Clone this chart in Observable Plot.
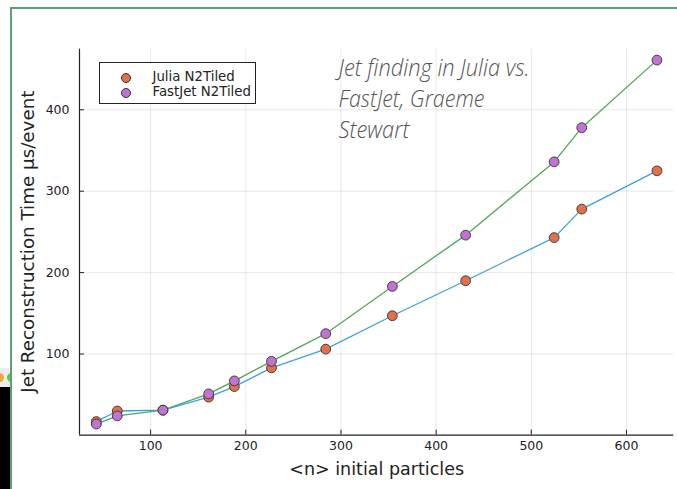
<!DOCTYPE html>
<html><head><meta charset="utf-8">
<script src="https://cdn.jsdelivr.net/npm/d3@7"></script>
<script src="https://cdn.jsdelivr.net/npm/@observablehq/plot@0.6"></script>
<style>
html,body{margin:0;padding:0;background:#fff;}
#wrap{position:relative;width:677px;height:489px;overflow:hidden;font-family:"DejaVu Sans",sans-serif;background:#fff;}
#chart{position:absolute;left:0;top:0;}
#border{position:absolute;left:10px;top:7px;width:800px;height:600px;border:2px solid #5aa274;box-sizing:border-box;pointer-events:none;}
#uibar{position:absolute;left:0;top:368px;width:11px;height:19px;background:#ececec;overflow:hidden;}
#uibar .d1{position:absolute;left:-5px;top:5px;width:9px;height:9px;border-radius:50%;background:#f0a53a;}
#uibar .d2{position:absolute;left:7px;top:5px;width:9px;height:9px;border-radius:50%;background:#5fc553;}
#black{position:absolute;left:0;top:387px;width:11px;height:102px;background:#000;}
#legend{position:absolute;left:99px;top:62px;width:157px;height:42px;border:1px solid #222;box-sizing:border-box;background:#fff;}
#legend .row{position:absolute;left:0;height:16px;width:155px;}
#legend .mk{position:absolute;left:20.5px;top:2.5px;width:10.5px;height:10.5px;border-radius:50%;border:0.9px solid #333;box-sizing:border-box;}
#legend .lb{position:absolute;left:52.5px;top:-1px;font-size:13.3px;line-height:16px;color:#222;white-space:nowrap;}
</style></head><body>
<div id="wrap">
<div id="chart"></div>
<div id="legend"></div>
<div id="uibar"><div class="d1"></div><div class="d2"></div></div>
<div id="black"></div>
<div id="border"></div>
</div>
<script>
// Data
const particles   = [43, 65, 113, 161, 188, 227, 284, 354, 431, 524, 553, 632];
const juliaTime   = [17, 30, 31, 47, 60, 83, 106, 147, 190, 243, 278, 325];
const fastjetTime = [14, 24, 31, 51, 67, 91, 125, 183, 246, 336, 378, 461];
const seriesNames = ["Julia N2Tiled", "FastJet N2Tiled"];
const lineColors  = ["#3d9fe3", "#52a55c"];
const markerColors = ["#e2704a", "#c173d3"];
const xTicks = [100, 200, 300, 400, 500, 600];
const yTicks = [100, 200, 300, 400];
const xLabel = "<n> initial particles";
const yLabel = "Jet Reconstruction Time µs/event";
const noteText = "Jet finding in Julia vs.\nFastJet, Graeme\nStewart";

const xDomain = [25.3, 649.7];
const yDomain = [0.4, 474.4];

const julia = particles.map((n, i) => ({n, t: juliaTime[i], s: seriesNames[0]}));
const fastjet = particles.map((n, i) => ({n, t: fastjetTime[i], s: seriesNames[1]}));

const plot = Plot.plot({
  width: 677,
  height: 489,
  marginLeft: 79,
  marginRight: 3.7,
  marginTop: 48.7,
  marginBottom: 54.4,
  style: {fontFamily: "DejaVu Sans, sans-serif", fontSize: "12.5px", color: "#222", background: "transparent"},
  x: {domain: xDomain},
  y: {domain: yDomain},
  marks: [
    Plot.gridX(xTicks, {stroke: "#000", strokeOpacity: 0.09, strokeWidth: 1}),
    Plot.gridY(yTicks, {stroke: "#000", strokeOpacity: 0.09, strokeWidth: 1}),
    Plot.axisX({ticks: xTicks, tickSize: -5, tickPadding: 11.5, label: null, stroke: "#222", fontSize: 12.5}),
    Plot.axisY({ticks: yTicks, tickSize: -5, tickPadding: 15, label: null, stroke: "#222", fontSize: 12.5}),
    Plot.ruleX([xDomain[0]], {stroke: "#222", strokeWidth: 1.2}),
    Plot.ruleY([yDomain[0]], {stroke: "#222", strokeWidth: 1.2}),
    Plot.line(julia, {x: "n", y: "t", stroke: lineColors[0], strokeWidth: 1.3}),
    Plot.dot(julia, {x: "n", y: "t", r: 4.9, fill: markerColors[0], stroke: "#333", strokeWidth: 0.9}),
    Plot.line(fastjet, {x: "n", y: "t", stroke: lineColors[1], strokeWidth: 1.3}),
    Plot.dot(fastjet, {x: "n", y: "t", r: 4.9, fill: markerColors[1], stroke: "#333", strokeWidth: 0.9}),
    Plot.text([xLabel], {frameAnchor: "bottom", dy: 34.4, fontSize: 17.5, fill: "#222", lineAnchor: "middle"}),
    Plot.text([noteText], {frameAnchor: "top-left", dx: 259, dy: 4, textAnchor: "start", lineAnchor: "top",
      fontSize: 24, lineHeight: 1.31, fill: "#555", fontStyle: "italic", fontWeight: 300,
      fontFamily: "Open Sans, Lato, sans-serif"})
  ]
});
document.getElementById("chart").appendChild(plot);

// y axis title, rotated, centred on the plot frame
d3.select(plot).append("text")
  .attr("transform", `translate(27,${(48.7 + 489 - 54.4) / 2}) rotate(-90)`)
  .attr("text-anchor", "middle")
  .attr("dominant-baseline", "central")
  .attr("fill", "#222")
  .attr("font-size", 18.3)
  .attr("font-family", "DejaVu Sans, sans-serif")
  .text(yLabel);

// fit note lines to their widths in the reference
const noteWidths = [191, 146, 71];
const lines = noteText.split("\n");
d3.select(plot).selectAll("tspan").each(function() {
  const idx = lines.indexOf(this.textContent);
  if (idx >= 0) {
    this.setAttribute("textLength", noteWidths[idx]);
    this.setAttribute("lengthAdjust", "spacingAndGlyphs");
  }
});

// legend
const legend = d3.select("#legend");
seriesNames.forEach((name, i) => {
  const row = legend.append("div").attr("class", "row").style("top", (7 + i * 15.3) + "px");
  row.append("div").attr("class", "mk").style("background", markerColors[i]);
  row.append("div").attr("class", "lb").text(name);
});
</script>
</body></html>
